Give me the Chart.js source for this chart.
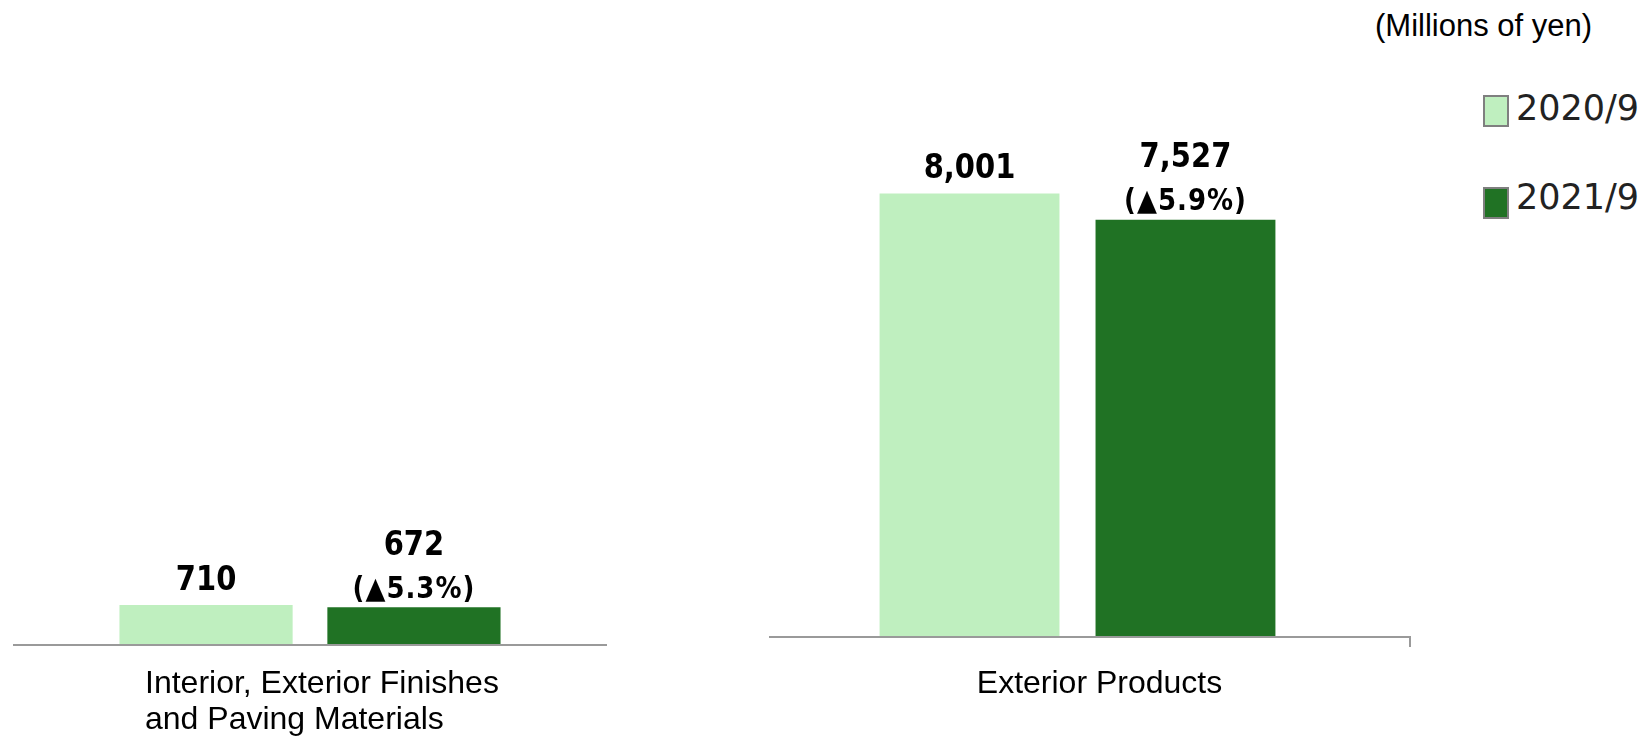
<!DOCTYPE html>
<html>
<head>
<meta charset="utf-8">
<title>Sales by product group</title>
<script src="https://cdn.jsdelivr.net/npm/chart.js@4.4.1/dist/chart.umd.min.js"></script>
<style>
  body { margin: 0; background: #fff; width: 1651px; height: 736px; position: relative; overflow: hidden; }
  canvas { position: absolute; top: 0; }
  #left-chart { left: 0; }
  #right-chart { left: 700px; }
  #unit { position: absolute; left: 1375px; top: 8px; line-height: 31px; font: 31px "Liberation Sans", Arial, sans-serif; color: #000; }
  .legend-item { position: absolute; left: 1483px; height: 31px; display: flex; align-items: center;
                 font: 35px "DejaVu Sans", Verdana, sans-serif; color: #222; }
  .legend-item .swatch { width: 22px; height: 28px; border: 2px solid #7f7f7f; margin-right: 7px; }
</style>
</head>
<body>
<div id="unit">(Millions of yen)</div>
<div id="legend"></div>
<canvas id="left-chart" width="620" height="736"></canvas>
<canvas id="right-chart" width="760" height="736"></canvas>

<script>
const categories = [['Interior, Exterior Finishes', 'and Paving Materials'], ['Exterior Products']];
const seriesNames = ['2020/9', '2021/9'];
const sales2020 = [710, 8001];
const sales2021 = [672, 7527];
const changeLabels2021 = ['▲5.3%', '▲5.9%'];
const seriesColors = ['#bfefbf', '#207224'];
const yMax = 9000;

// legend on the right, one row per series
const legend = document.getElementById('legend')
seriesNames.forEach((name, i) => {
    const item = document.createElement('div')
    item.className = 'legend-item'
    item.style.top = (92 + i * 89) + 'px'
    item.innerHTML = '<span class="swatch" style="background:' + seriesColors[i] +
        ';transform:translateY(' + (3 + i * 3) + 'px)"></span>' + name
    legend.appendChild(item)
})

// text a little taller than wide, like the labels in the deck
function tallText(ctx, text, x, y, font, spacing){
    ctx.save()
    ctx.font = font
    ctx.letterSpacing = (spacing || 0) + 'px'
    ctx.translate(x, y)
    ctx.scale(1, 1.15)
    ctx.fillText(text, 0, 0)
    ctx.restore()
}

// value (and change) labels above each bar
const valueLabels = {
    id: 'valueLabels',
    afterDatasetsDraw(chart) {
        const ctx = chart.ctx
        ctx.save()
        ctx.textAlign = 'center'
        ctx.textBaseline = 'middle'
        ctx.fillStyle = '#000'
        chart.data.datasets.forEach((ds, i) => {
            chart.getDatasetMeta(i).data.forEach((bar, j) => {
                const note = ds.notes ? ds.notes[j] : ''
                tallText(ctx, ds.data[j].toLocaleString('en-US'), bar.x, bar.y - (note ? 61 : 24), 'bold 29px "DejaVu Sans"')
                if (note) {
                    tallText(ctx, '(' + note + ')', bar.x, bar.y - 17, 'bold 26px "DejaVu Sans"', 1)
                }
            })
        })
        ctx.restore()
    }
}

// category axis line, drawn over the bar bottoms
const baseline = {
    id: 'baseline',
    afterDatasetsDraw(chart, args, opts) {
        const x = chart.scales.x
        const ctx = chart.ctx
        const end = x.right + (opts.extend || 0)
        ctx.save()
        ctx.strokeStyle = '#9a9a9a'
        ctx.lineWidth = 2
        ctx.beginPath()
        ctx.moveTo(x.left, x.top)
        ctx.lineTo(end, x.top)
        if (opts.endTick) ctx.lineTo(end, x.top + opts.endTick)
        ctx.stroke()
        ctx.restore()
    }
}

function makeChart(id, i, setup){
    return new Chart(document.getElementById(id), {
        type: 'bar',
        data: {
            labels: [categories[i]],
            datasets: [
                { label: seriesNames[0], data: [sales2020[i]], backgroundColor: seriesColors[0] },
                { label: seriesNames[1], data: [sales2021[i]], backgroundColor: seriesColors[1], notes: [changeLabels2021[i]] }
            ]
        },
        options: {
            responsive: false,
            animation: false,
            layout: { padding: { left: setup.left, right: setup.right, top: 138, bottom: 0 } },
            datasets: { bar: { categoryPercentage: 0.7, barPercentage: 0.833 } },
            plugins: {
                legend: { display: false },
                tooltip: { enabled: false },
                baseline: { extend: setup.extend, endTick: setup.endTick }
            },
            scales: {
                x: {
                    grid: { display: false, drawTicks: false },
                    border: { display: false },
                    ticks: {
                        color: '#000',
                        maxRotation: 0,
                        autoSkip: false,
                        padding: setup.pad,
                        align: setup.align,
                        labelOffset: setup.offset,
                        font: { family: '"Liberation Sans", Arial, sans-serif', size: 32, lineHeight: 1.125 }
                    },
                    afterFit(scale) {
                        // labels are placed by hand, so don't let them squeeze the plot
                        scale.height = setup.axisHeight
                        scale.paddingLeft = 0
                        scale.paddingRight = 0
                    }
                },
                y: { display: false, min: 0, max: yMax }
            }
        },
        plugins: [baseline, valueLabels]
    })
}

makeChart('left-chart', 0, { left: 13, right: 13, axisHeight: 91, pad: 21, align: 'start', offset: -165, extend: 0, endTick: 0 })
makeChart('right-chart', 1, { left: 69, right: 74, axisHeight: 99, pad: 29, align: 'center', offset: 22, extend: 24, endTick: 10 })
</script>
</body>
</html>
